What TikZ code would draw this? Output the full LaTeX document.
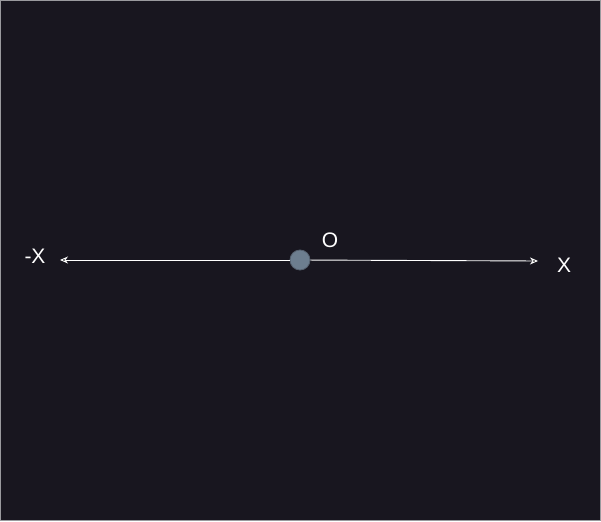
\documentclass[tikz,border=0pt]{standalone}
\usepackage{fontspec}
\setmainfont{Liberation Sans}
\usepackage{tikz}
\usetikzlibrary{positioning, arrows.meta}
\usepackage{xcolor}
\definecolor{bgdark}{HTML}{18161F}
\definecolor{framegray}{HTML}{9A9A9E}
\definecolor{dotfill}{HTML}{6D7E8F}
\definecolor{dotline}{HTML}{56616F}

\begin{document}
\begin{tikzpicture}[
 x=1pt, y=-1pt,
 axis/.style={draw=white, line width=0.9pt, -{Stealth[length=8pt, width=7pt, inset=2.5pt]}},
 axislabel/.style={text=white, font=\fontsize{21}{25}\selectfont, inner sep=0pt},
 every node/.style={inner sep=0pt}
]
 % Background and frame
 \fill[bgdark] (0,0) rectangle (601,521);
 \draw[framegray, line width=1pt] (0.5,0.5) rectangle (600.5,520.5);
 \useasboundingbox (0,0) rectangle (601,521);

 % Ends of the axis and origin point
 \coordinate (left) at (60,260);
 \coordinate (right) at (538,261);
 \node[circle, minimum size=20pt, fill=dotfill, draw=dotline, line width=0.8pt] (o) at (300,260) {};

 % Labels
 \node[axislabel] (negx) at (35,256) {-X};
 \node[axislabel] (posx) at (564,265) {X};
 \node[axislabel] (olabel) at (330,240) {O};

 % The two half axes
 \path[axis]
 (o) edge (left)
 (o) edge (right);
\end{tikzpicture}
\end{document}
